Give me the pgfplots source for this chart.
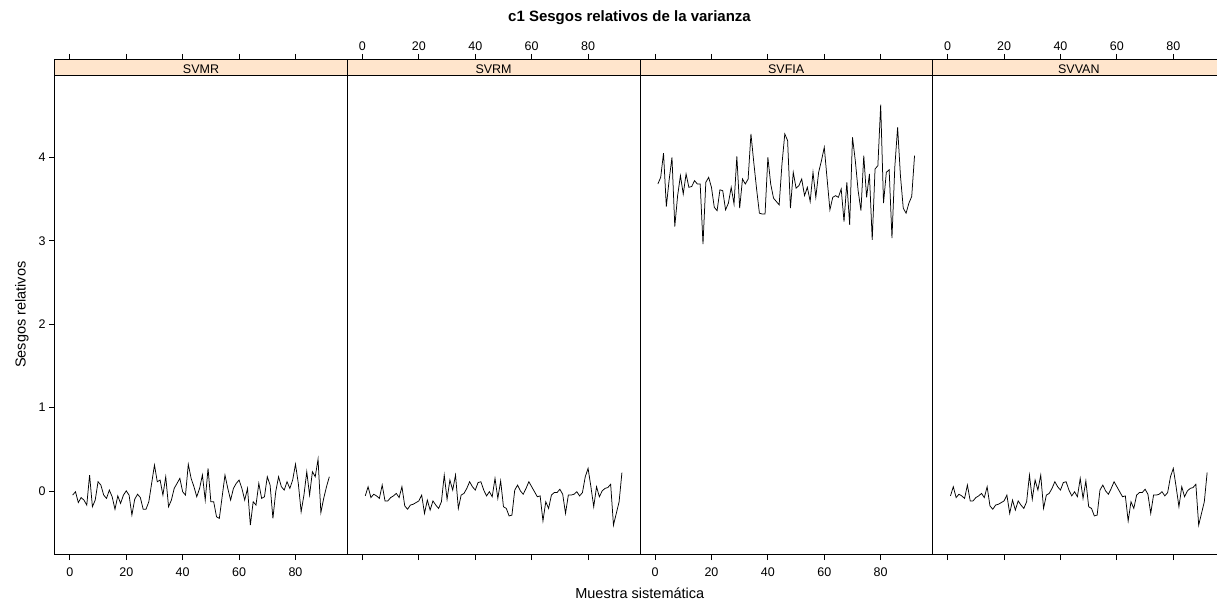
\documentclass[border=0pt]{standalone}
\usepackage{pgfplots}
\pgfplotsset{compat=1.18}
\usepackage{pgfplotstable}
\usepackage{fontspec}
\setmainfont{Liberation Sans}
\definecolor{stripcol}{HTML}{FFE5CC}

\pgfplotstableread{
x y
1 -0.05
2 -0.01
3 -0.14
4 -0.08
5 -0.11
6 -0.17
7 0.19
8 -0.19
9 -0.11
10 0.11
11 0.07
12 -0.05
13 -0.09
14 0.01
15 -0.07
16 -0.22
17 -0.06
18 -0.15
19 -0.05
20 0.00
21 -0.05
22 -0.29
23 -0.10
24 -0.04
25 -0.08
26 -0.22
27 -0.22
28 -0.13
29 0.09
30 0.31
31 0.11
32 0.13
33 -0.05
34 0.17
35 -0.19
36 -0.11
37 0.03
38 0.09
39 0.15
40 -0.01
41 -0.05
42 0.32
43 0.15
44 0.05
45 -0.07
46 0.03
47 0.19
48 -0.11
49 0.27
50 -0.13
51 -0.13
52 -0.31
53 -0.33
54 -0.07
55 0.19
56 0.03
57 -0.11
58 0.03
59 0.09
60 0.13
61 0.03
62 -0.11
63 0.03
64 -0.41
65 -0.13
66 -0.17
67 0.09
68 -0.09
69 -0.07
70 0.17
71 0.07
72 -0.33
73 -0.01
74 0.17
75 0.05
76 0.01
77 0.11
78 0.03
79 0.13
80 0.32
81 0.09
82 -0.25
83 -0.05
84 0.23
85 -0.05
86 0.23
87 0.17
88 0.38
89 -0.26
90 -0.09
91 0.05
92 0.17
}\svmr

\pgfplotstableread{
x y
1 -0.06
2 0.05
3 -0.08
4 -0.04
5 -0.06
6 -0.09
7 0.07
8 -0.12
9 -0.12
10 -0.08
11 -0.06
12 -0.03
13 -0.08
14 0.05
15 -0.18
16 -0.22
17 -0.17
18 -0.16
19 -0.14
20 -0.12
21 -0.05
22 -0.27
23 -0.11
24 -0.23
25 -0.12
26 -0.17
27 -0.21
28 -0.13
29 0.19
30 -0.10
31 0.13
32 0.01
33 0.19
34 -0.21
35 -0.05
36 -0.03
37 0.03
38 0.11
39 0.05
40 0.01
41 0.10
42 0.11
43 0.01
44 -0.06
45 -0.01
46 -0.07
47 0.15
48 -0.09
49 0.12
50 -0.19
51 -0.21
52 -0.30
53 -0.29
54 0.01
55 0.07
56 0.00
57 -0.04
58 0.03
59 0.11
60 0.05
61 -0.01
62 -0.07
63 -0.06
64 -0.36
65 -0.13
66 -0.21
67 -0.05
68 -0.02
69 -0.02
70 0.02
71 -0.04
72 -0.27
73 -0.05
74 -0.05
75 -0.04
76 -0.01
77 -0.06
78 -0.02
79 0.17
80 0.27
81 0.05
82 -0.19
83 0.05
84 -0.07
85 0.00
86 0.03
87 0.04
88 0.08
89 -0.41
90 -0.27
91 -0.13
92 0.22
}\svrm

\pgfplotstableread{
x y
1 3.68
2 3.76
3 4.05
4 3.41
5 3.73
6 4.00
7 3.17
8 3.54
9 3.78
10 3.56
11 3.80
12 3.64
13 3.65
14 3.72
15 3.68
16 3.68
17 2.96
18 3.70
19 3.76
20 3.64
21 3.40
22 3.36
23 3.61
24 3.60
25 3.37
26 3.45
27 3.64
28 3.44
29 4.01
30 3.39
31 3.74
32 3.68
33 3.74
34 4.28
35 3.94
36 3.62
37 3.33
38 3.32
39 3.32
40 4.00
41 3.68
42 3.51
43 3.47
44 3.43
45 3.92
46 4.28
47 4.20
48 3.39
49 3.82
50 3.63
51 3.66
52 3.74
53 3.54
54 3.64
55 3.47
56 3.82
57 3.52
58 3.82
59 3.96
60 4.12
61 3.74
62 3.37
63 3.52
64 3.54
65 3.52
66 3.62
67 3.23
68 3.70
69 3.19
70 4.24
71 3.96
72 3.60
73 3.36
74 4.02
75 3.52
76 3.80
77 3.01
78 3.86
79 3.90
80 4.63
81 3.45
82 3.82
83 3.85
84 3.03
85 3.88
86 4.36
87 3.78
88 3.39
89 3.33
90 3.45
91 3.53
92 4.02
}\svfia

\pgfplotstableread{
x y
1 -0.06
2 0.05
3 -0.08
4 -0.04
5 -0.06
6 -0.09
7 0.07
8 -0.12
9 -0.12
10 -0.08
11 -0.06
12 -0.03
13 -0.08
14 0.05
15 -0.18
16 -0.22
17 -0.17
18 -0.16
19 -0.14
20 -0.12
21 -0.05
22 -0.27
23 -0.11
24 -0.23
25 -0.12
26 -0.17
27 -0.21
28 -0.13
29 0.19
30 -0.10
31 0.13
32 0.01
33 0.19
34 -0.21
35 -0.05
36 -0.03
37 0.03
38 0.11
39 0.05
40 0.01
41 0.10
42 0.11
43 0.01
44 -0.06
45 -0.01
46 -0.07
47 0.15
48 -0.09
49 0.12
50 -0.19
51 -0.21
52 -0.30
53 -0.29
54 0.01
55 0.07
56 0.00
57 -0.04
58 0.03
59 0.11
60 0.05
61 -0.01
62 -0.07
63 -0.06
64 -0.36
65 -0.13
66 -0.21
67 -0.05
68 -0.02
69 -0.02
70 0.02
71 -0.04
72 -0.27
73 -0.05
74 -0.05
75 -0.04
76 -0.01
77 -0.06
78 -0.02
79 0.17
80 0.27
81 0.05
82 -0.19
83 0.05
84 -0.07
85 0.00
86 0.03
87 0.04
88 0.08
89 -0.41
90 -0.27
91 -0.13
92 0.22
}\svvan

\pgfplotsset{
  panel/.style={
    scale only axis,
    width=292.6pt, height=495.3pt,
    anchor=south west,
    xmin=-5.37, xmax=98.37,
    ymin=-0.765, ymax=5.174,
    xtick={0,20,40,60,80},
    xtick pos=both,
    tick align=outside,
    major tick length=5.5pt,
    axis on top,
    axis line style={black, line width=0.8pt},
    every tick/.style={black, line width=0.8pt},
    tick label style={font=\fontsize{12.5}{14}\selectfont},
    /pgf/number format/assume math mode=true,
    ytick=\empty,
  },
}

\newcommand{\strip}[1]{%
  \fill[stripcol] (axis cs:-5.37,4.985) rectangle (axis cs:98.37,5.174);
  \draw[black, line width=0.8pt] (axis cs:-5.37,4.985) -- (axis cs:98.37,4.985);
  \node[anchor=base, font=\fontsize{12.5}{14}\selectfont, inner sep=0pt] at (axis cs:46.5,5.005) {#1};
}

\begin{document}
\begin{tikzpicture}
\path[use as bounding box] (0pt,0pt) rectangle (1217pt,605pt);
\clip (0pt,0pt) rectangle (1217pt,605pt);

\begin{axis}[panel, at={(54.7pt,50.3pt)},
  xticklabel pos=lower, xticklabel style={yshift=-4.5pt},
  ytick={0,1,2,3,4}, ytick pos=left]
  \strip{SVMR}
  \addplot[black, line width=0.75pt, mark=none] table[x=x,y=y] {\svmr};
\end{axis}

\begin{axis}[panel, at={(347.3pt,50.3pt)},
  xticklabel pos=upper]
  \strip{SVRM}
  \addplot[black, line width=0.75pt, mark=none] table[x=x,y=y] {\svrm};
\end{axis}

\begin{axis}[panel, at={(639.9pt,50.3pt)},
  xticklabel pos=lower, xticklabel style={yshift=-4.5pt}]
  \strip{SVFIA}
  \addplot[black, line width=0.75pt, mark=none] table[x=x,y=y] {\svfia};
\end{axis}

\begin{axis}[panel, at={(932.5pt,50.3pt)},
  xticklabel pos=upper]
  \strip{SVVAN}
  \addplot[black, line width=0.75pt, mark=none] table[x=x,y=y] {\svvan};
\end{axis}

\node[anchor=base, font=\bfseries\fontsize{15}{17}\selectfont] at (629.5pt,583.3pt) {c1 Sesgos relativos de la varianza};
\node[anchor=base, font=\fontsize{14.5}{16}\selectfont] at (639.8pt,6.5pt) {Muestra sistemática};
\node[anchor=base, rotate=90, font=\fontsize{14.5}{16}\selectfont] at (25.5pt,290.3pt) {Sesgos relativos};
\end{tikzpicture}
\end{document}
